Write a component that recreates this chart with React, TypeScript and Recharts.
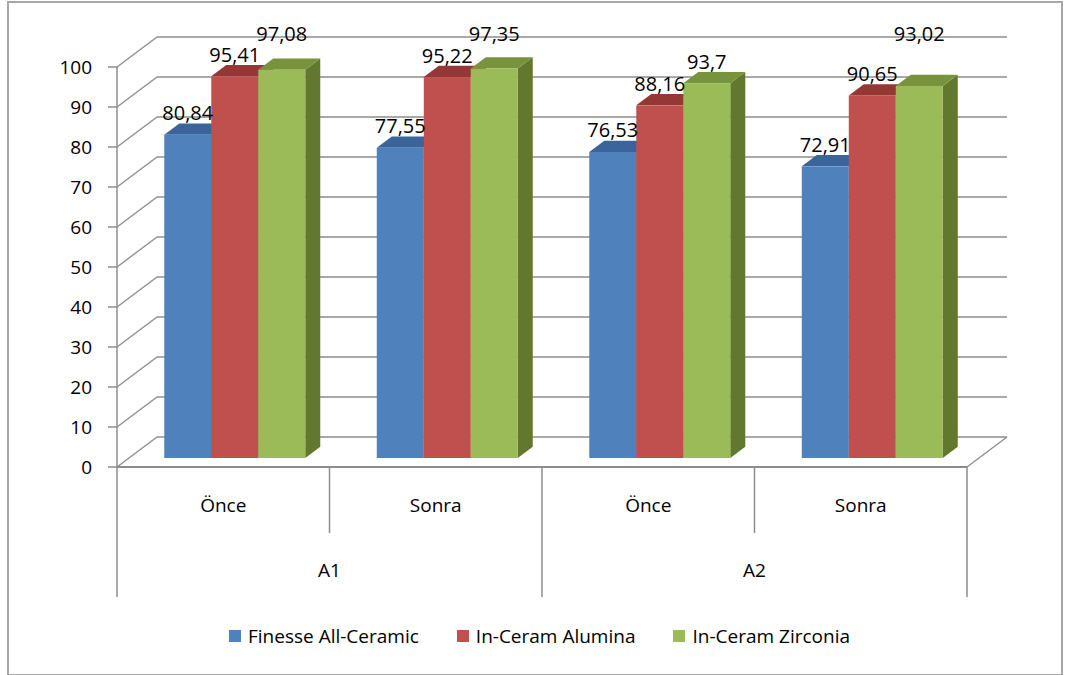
import React from 'react';
import { BarChart, Bar, XAxis, YAxis, CartesianGrid, Legend, LabelList } from 'recharts';

// categories (two-level axis)
const subLabels = ['Önce', 'Sonra', 'Önce', 'Sonra'];
const groupLabels = ['A1', 'A1', 'A2', 'A2'];

// series values
const finesse = [80.84, 77.55, 76.53, 72.91];
const alumina = [95.41, 95.22, 88.16, 90.65];
const zirconia = [97.08, 97.35, 93.7, 93.02];

const yTicks = [0, 10, 20, 30, 40, 50, 60, 70, 80, 90, 100];

const seriesKeys = ['finesse', 'alumina', 'zirconia'];
const seriesNames = ['Finesse All-Ceramic', 'In-Ceram Alumina', 'In-Ceram Zirconia'];
const seriesValues = [finesse, alumina, zirconia];

const data = subLabels.map((sub, i) => ({
  sub,
  group: groupLabels[i],
  finesse: finesse[i],
  alumina: alumina[i],
  zirconia: zirconia[i],
}));

// layout
const W = 1065;
const H = 675;
const PLOT_LEFT = 117;
const PLOT_TOP = 67;
const PLOT_RIGHT = 967;
const PLOT_BOTTOM = 467;
const PLOT_W = PLOT_RIGHT - PLOT_LEFT;
const DX = 40; // depth of the 3d box
const DY = 30;
const BAR_SHIFT = 0.3; // bars sit this far into the depth
const BAR_DEPTH = 0.375;
const FONT = '"Open Sans", Lato, sans-serif';
const FS = 19;
const GRID = '#8c8c8c';

const colors = [
  { front: '#4F81BD', top: '#3B649A', side: '#385D8A' },
  { front: '#C0504D', top: '#953735', side: '#8C3836' },
  { front: '#9BBB59', top: '#77933C', side: '#62782F' },
];

const makeShape = (s: number) => (props: any) => {
  const { x, y, width, height } = props;
  if (!width || height == null) return null;
  const c = colors[s];
  const sx = x + DX * BAR_SHIFT;
  const sy = y - DY * BAR_SHIFT;
  const dx = DX * BAR_DEPTH;
  const dy = DY * BAR_DEPTH;
  return (
    <g>
      <polygon
        points={`${sx + width},${sy} ${sx + width + dx},${sy - dy} ${sx + width + dx},${sy + height - dy} ${sx + width},${sy + height}`}
        fill={c.side}
      />
      <polygon
        points={`${sx},${sy} ${sx + dx},${sy - dy} ${sx + width + dx},${sy - dy} ${sx + width},${sy}`}
        fill={c.top}
      />
      <rect x={sx} y={sy} width={width} height={height} fill={c.front} />
    </g>
  );
};

const makeLabel = (s: number) => (props: any) => {
  const vb = props.viewBox || props;
  const { x, y, width, height } = vb;
  const v = Number(props.value);
  const index = props.index != null ? props.index : seriesValues[s].indexOf(v);
  const perUnit = height / v;
  const base = y + height;
  const top = y - DY * BAR_SHIFT;
  let cy = top - 22;
  if (s > 0) {
    const prev = base - seriesValues[s - 1][index] * perUnit - DY * BAR_SHIFT - 22;
    if (Math.abs(prev - cy) < 20) cy = PLOT_TOP - 34;
  }
  return (
    <text
      x={x + width / 2 + DX * BAR_SHIFT}
      y={cy}
      textAnchor="middle"
      dominantBaseline="central"
      fontFamily={FONT}
      fontSize={20}
      fill="#000"
    >
      {String(v).replace('.', ',')}
    </text>
  );
};

const gridLine = (props: any) => {
  const { x1, y1, x2, y2 } = props;
  const floor = Math.abs(y1 - PLOT_BOTTOM) < 1;
  return (
    <g key={`grid-${y1}`} stroke={GRID} strokeWidth={1.3}>
      <line x1={x1} y1={y1} x2={x1 + DX} y2={y1 - DY} />
      <line x1={x1 + DX} y1={y1 - DY} x2={x2 + DX} y2={y2 - DY} />
      {floor && <line x1={x2} y1={y2} x2={x2 + DX} y2={y2 - DY} />}
    </g>
  );
};

const SubTick = (props: any) => {
  const { x, payload, index } = props;
  const band = PLOT_W / subLabels.length;
  return (
    <g>
      <text x={x} y={PLOT_BOTTOM + 45} textAnchor="middle" fontFamily={FONT} fontSize={FS} fill="#000">
        {payload.value}
      </text>
      {index % 2 === 1 && (
        <line x1={x - band / 2} y1={PLOT_BOTTOM} x2={x - band / 2} y2={PLOT_BOTTOM + 66} stroke={GRID} strokeWidth={1.5} />
      )}
    </g>
  );
};

const GroupTick = (props: any) => {
  const { x, payload, index } = props;
  const groups = Array.from(new Set(groupLabels));
  const gw = PLOT_W / groups.length;
  return (
    <g>
      <text x={x} y={PLOT_BOTTOM + 110} textAnchor="middle" fontFamily={FONT} fontSize={FS} fill="#000">
        {payload.value}
      </text>
      <line x1={x - gw / 2} y1={PLOT_BOTTOM} x2={x - gw / 2} y2={PLOT_BOTTOM + 130} stroke={GRID} strokeWidth={1.5} />
      {index === groups.length - 1 && (
        <line x1={x + gw / 2} y1={PLOT_BOTTOM} x2={x + gw / 2} y2={PLOT_BOTTOM + 130} stroke={GRID} strokeWidth={1.5} />
      )}
    </g>
  );
};

const LegendContent = () => (
  <div
    style={{
      display: 'flex',
      justifyContent: 'center',
      alignItems: 'center',
      height: 78,
      paddingLeft: 14,
      fontFamily: FONT,
      fontSize: FS,
      color: '#000',
    }}
  >
    {seriesNames.map((name, i) => (
      <span key={name} style={{ display: 'flex', alignItems: 'center', marginRight: i < seriesNames.length - 1 ? 38 : 0 }}>
        <span style={{ width: 12, height: 12, background: colors[i].front, marginRight: 7, display: 'inline-block' }} />
        {name}
      </span>
    ))}
  </div>
);

export default function App() {
  return (
    <div style={{ position: 'relative', width: W, height: H, background: '#fff' }}>
      <style>{'body{margin:0;}'}</style>
      <BarChart
        width={W}
        height={H}
        data={data}
        margin={{ top: PLOT_TOP, right: W - PLOT_RIGHT, left: 0, bottom: 0 }}
        barCategoryGap="16.6%"
        barGap={0}
      >
        <CartesianGrid vertical={false} horizontal={gridLine} />
        <YAxis
          width={PLOT_LEFT}
          domain={[0, 100]}
          ticks={yTicks}
          interval={0}
          tickSize={9}
          tickMargin={16}
          axisLine={{ stroke: GRID, strokeWidth: 1.5 }}
          tickLine={{ stroke: GRID, strokeWidth: 1.5 }}
          tick={{ fontFamily: FONT, fontSize: FS, fill: '#000' }}
        />
        <XAxis
          dataKey="sub"
          height={65}
          interval={0}
          axisLine={{ stroke: GRID, strokeWidth: 1.8 }}
          tickLine={false}
          tick={<SubTick />}
        />
        <XAxis
          xAxisId="grp"
          dataKey="group"
          allowDuplicatedCategory={false}
          height={65}
          interval={0}
          axisLine={false}
          tickLine={false}
          tick={<GroupTick />}
        />
        <Legend verticalAlign="bottom" content={<LegendContent />} wrapperStyle={{ left: 0, width: W, bottom: 0 }} />
        {seriesKeys.map((k, s) => (
          <Bar key={k} dataKey={k} name={seriesNames[s]} fill={colors[s].front} shape={makeShape(s)} isAnimationActive={false}>
            <LabelList dataKey={k} content={makeLabel(s)} />
          </Bar>
        ))}
      </BarChart>
      <div
        style={{
          position: 'absolute',
          left: 7,
          top: 1,
          width: 1052,
          height: 671,
          border: '2px solid #a6a6a6',
          pointerEvents: 'none',
        }}
      />
    </div>
  );
}
